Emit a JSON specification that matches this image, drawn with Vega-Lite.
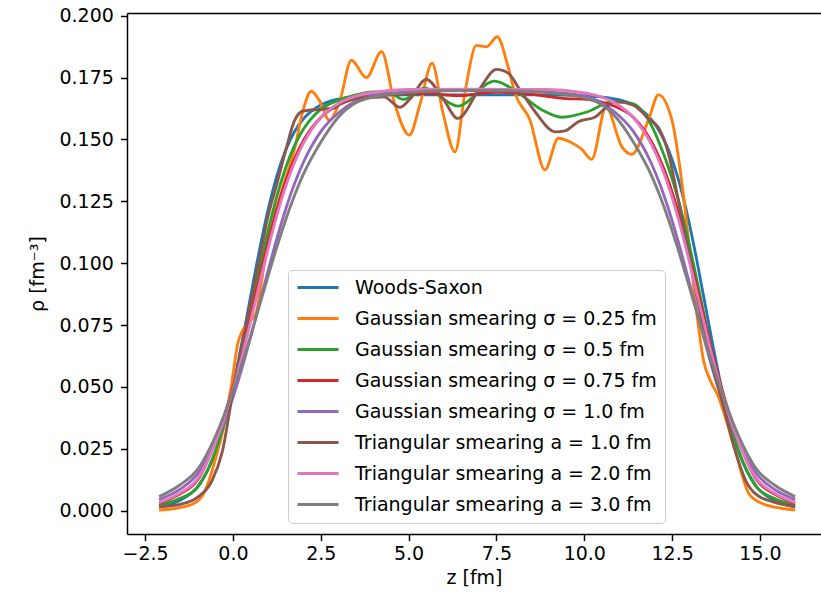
{
"$schema": "https://vega.github.io/schema/vega-lite/v6.json",
"width": 694,
"height": 521,
"autosize": {"type": "none"},
"padding": {"left": 127, "top": 13, "right": 0, "bottom": 58},
"background": "white",
"config": {
  "view": {"stroke": null},
  "axis": {"domainColor": "#000", "domainWidth": 1.5, "tickColor": "#000", "tickWidth": 1.5, "tickSize": 6.6, "labelFont": "DejaVu Sans", "labelFontSize": 19, "labelColor": "#000", "titleFont": "DejaVu Sans", "titleFontSize": 19, "titleFontWeight": "normal", "titleColor": "#000", "grid": false},
  "legend": {"orient": "none", "legendX": 161, "legendY": 257, "fillColor": "rgba(255,255,255,0.8)", "strokeColor": "#cccccc", "cornerRadius": 4, "padding": 8, "symbolType": "stroke", "symbolSize": 1681, "symbolStrokeWidth": 2.85, "clipHeight": 19, "labelFont": "DejaVu Sans", "labelFontSize": 19, "labelColor": "#000", "labelOffset": 15, "rowPadding": 11, "labelLimit": 0}
},
"data": {"values": [
{"s":"Woods-Saxon","z":-2.1,"rho":0.0016},{"s":"Woods-Saxon","z":-1.5,"rho":0.0042},{"s":"Woods-Saxon","z":-1.0,"rho":0.0098},{"s":"Woods-Saxon","z":-0.5,"rho":0.0235},{"s":"Woods-Saxon","z":0,"rho":0.0501},{"s":"Woods-Saxon","z":0.25,"rho":0.0675},{"s":"Woods-Saxon","z":0.5,"rho":0.0863},{"s":"Woods-Saxon","z":0.75,"rho":0.1049},{"s":"Woods-Saxon","z":1.0,"rho":0.1216},{"s":"Woods-Saxon","z":1.25,"rho":0.1352},{"s":"Woods-Saxon","z":1.5,"rho":0.1456},{"s":"Woods-Saxon","z":1.75,"rho":0.1531},{"s":"Woods-Saxon","z":2.0,"rho":0.1582},{"s":"Woods-Saxon","z":2.5,"rho":0.1639},{"s":"Woods-Saxon","z":3.0,"rho":0.1663},{"s":"Woods-Saxon","z":3.5,"rho":0.1673},{"s":"Woods-Saxon","z":4.0,"rho":0.1677},{"s":"Woods-Saxon","z":5.0,"rho":0.168},{"s":"Woods-Saxon","z":7.0,"rho":0.168},{"s":"Woods-Saxon","z":8.9,"rho":0.168},{"s":"Woods-Saxon","z":9.9,"rho":0.1677},{"s":"Woods-Saxon","z":10.4,"rho":0.1673},{"s":"Woods-Saxon","z":10.9,"rho":0.1663},{"s":"Woods-Saxon","z":11.4,"rho":0.1639},{"s":"Woods-Saxon","z":11.9,"rho":0.1582},{"s":"Woods-Saxon","z":12.15,"rho":0.1531},{"s":"Woods-Saxon","z":12.4,"rho":0.1456},{"s":"Woods-Saxon","z":12.65,"rho":0.1352},{"s":"Woods-Saxon","z":12.9,"rho":0.1216},{"s":"Woods-Saxon","z":13.15,"rho":0.1049},{"s":"Woods-Saxon","z":13.4,"rho":0.0863},{"s":"Woods-Saxon","z":13.65,"rho":0.0675},{"s":"Woods-Saxon","z":13.9,"rho":0.0501},{"s":"Woods-Saxon","z":14.4,"rho":0.0235},{"s":"Woods-Saxon","z":14.9,"rho":0.0098},{"s":"Woods-Saxon","z":15.4,"rho":0.0042},{"s":"Woods-Saxon","z":16.0,"rho":0.0016},

{"s":"Gaussian smearing σ = 0.25 fm","z":-2.1,"rho":0.0003},{"s":"Gaussian smearing σ = 0.25 fm","z":-1.6,"rho":0.001},{"s":"Gaussian smearing σ = 0.25 fm","z":-1.1,"rho":0.003},{"s":"Gaussian smearing σ = 0.25 fm","z":-0.85,"rho":0.0065},{"s":"Gaussian smearing σ = 0.25 fm","z":-0.7,"rho":0.0115},{"s":"Gaussian smearing σ = 0.25 fm","z":-0.48,"rho":0.0218},{"s":"Gaussian smearing σ = 0.25 fm","z":-0.24,"rho":0.0353},{"s":"Gaussian smearing σ = 0.25 fm","z":-0.05,"rho":0.05},{"s":"Gaussian smearing σ = 0.25 fm","z":0.14,"rho":0.0676},{"s":"Gaussian smearing σ = 0.25 fm","z":0.28,"rho":0.073},{"s":"Gaussian smearing σ = 0.25 fm","z":0.47,"rho":0.0764},{"s":"Gaussian smearing σ = 0.25 fm","z":0.66,"rho":0.08},{"s":"Gaussian smearing σ = 0.25 fm","z":0.81,"rho":0.092},{"s":"Gaussian smearing σ = 0.25 fm","z":0.95,"rho":0.105},{"s":"Gaussian smearing σ = 0.25 fm","z":1.14,"rho":0.117},{"s":"Gaussian smearing σ = 0.25 fm","z":1.45,"rho":0.132},{"s":"Gaussian smearing σ = 0.25 fm","z":1.75,"rho":0.146},{"s":"Gaussian smearing σ = 0.25 fm","z":2.0,"rho":0.162},{"s":"Gaussian smearing σ = 0.25 fm","z":2.23,"rho":0.1695},{"s":"Gaussian smearing σ = 0.25 fm","z":2.45,"rho":0.166},{"s":"Gaussian smearing σ = 0.25 fm","z":2.75,"rho":0.1578},{"s":"Gaussian smearing σ = 0.25 fm","z":3.05,"rho":0.166},{"s":"Gaussian smearing σ = 0.25 fm","z":3.37,"rho":0.182},{"s":"Gaussian smearing σ = 0.25 fm","z":3.8,"rho":0.175},{"s":"Gaussian smearing σ = 0.25 fm","z":4.23,"rho":0.1855},{"s":"Gaussian smearing σ = 0.25 fm","z":4.6,"rho":0.1646},{"s":"Gaussian smearing σ = 0.25 fm","z":5.02,"rho":0.1518},{"s":"Gaussian smearing σ = 0.25 fm","z":5.32,"rho":0.164},{"s":"Gaussian smearing σ = 0.25 fm","z":5.67,"rho":0.1808},{"s":"Gaussian smearing σ = 0.25 fm","z":5.98,"rho":0.1606},{"s":"Gaussian smearing σ = 0.25 fm","z":6.32,"rho":0.145},{"s":"Gaussian smearing σ = 0.25 fm","z":6.62,"rho":0.1705},{"s":"Gaussian smearing σ = 0.25 fm","z":6.93,"rho":0.188},{"s":"Gaussian smearing σ = 0.25 fm","z":7.22,"rho":0.1875},{"s":"Gaussian smearing σ = 0.25 fm","z":7.52,"rho":0.1915},{"s":"Gaussian smearing σ = 0.25 fm","z":7.82,"rho":0.18},{"s":"Gaussian smearing σ = 0.25 fm","z":8.03,"rho":0.1686},{"s":"Gaussian smearing σ = 0.25 fm","z":8.45,"rho":0.158},{"s":"Gaussian smearing σ = 0.25 fm","z":8.88,"rho":0.1377},{"s":"Gaussian smearing σ = 0.25 fm","z":9.26,"rho":0.1505},{"s":"Gaussian smearing σ = 0.25 fm","z":9.6,"rho":0.149},{"s":"Gaussian smearing σ = 0.25 fm","z":9.93,"rho":0.146},{"s":"Gaussian smearing σ = 0.25 fm","z":10.21,"rho":0.142},{"s":"Gaussian smearing σ = 0.25 fm","z":10.62,"rho":0.163},{"s":"Gaussian smearing σ = 0.25 fm","z":11.07,"rho":0.147},{"s":"Gaussian smearing σ = 0.25 fm","z":11.35,"rho":0.144},{"s":"Gaussian smearing σ = 0.25 fm","z":11.83,"rho":0.158},{"s":"Gaussian smearing σ = 0.25 fm","z":12.11,"rho":0.168},{"s":"Gaussian smearing σ = 0.25 fm","z":12.49,"rho":0.158},{"s":"Gaussian smearing σ = 0.25 fm","z":12.8,"rho":0.13},{"s":"Gaussian smearing σ = 0.25 fm","z":13.0,"rho":0.105},{"s":"Gaussian smearing σ = 0.25 fm","z":13.25,"rho":0.0743},{"s":"Gaussian smearing σ = 0.25 fm","z":13.39,"rho":0.0609},{"s":"Gaussian smearing σ = 0.25 fm","z":13.58,"rho":0.0528},{"s":"Gaussian smearing σ = 0.25 fm","z":13.82,"rho":0.046},{"s":"Gaussian smearing σ = 0.25 fm","z":14.05,"rho":0.036},{"s":"Gaussian smearing σ = 0.25 fm","z":14.29,"rho":0.0245},{"s":"Gaussian smearing σ = 0.25 fm","z":14.68,"rho":0.007},{"s":"Gaussian smearing σ = 0.25 fm","z":15.05,"rho":0.003},{"s":"Gaussian smearing σ = 0.25 fm","z":15.6,"rho":0.001},{"s":"Gaussian smearing σ = 0.25 fm","z":16.0,"rho":0.0003},

{"s":"Gaussian smearing σ = 0.5 fm","z":-2.1,"rho":0.0022},{"s":"Gaussian smearing σ = 0.5 fm","z":-1.5,"rho":0.005},{"s":"Gaussian smearing σ = 0.5 fm","z":-1.0,"rho":0.0095},{"s":"Gaussian smearing σ = 0.5 fm","z":-0.5,"rho":0.024},{"s":"Gaussian smearing σ = 0.5 fm","z":0,"rho":0.0479},{"s":"Gaussian smearing σ = 0.5 fm","z":0.25,"rho":0.063},{"s":"Gaussian smearing σ = 0.5 fm","z":0.5,"rho":0.0797},{"s":"Gaussian smearing σ = 0.5 fm","z":0.75,"rho":0.0968},{"s":"Gaussian smearing σ = 0.5 fm","z":1.0,"rho":0.1129},{"s":"Gaussian smearing σ = 0.5 fm","z":1.25,"rho":0.127},{"s":"Gaussian smearing σ = 0.5 fm","z":1.5,"rho":0.1385},{"s":"Gaussian smearing σ = 0.5 fm","z":1.75,"rho":0.1474},{"s":"Gaussian smearing σ = 0.5 fm","z":2.0,"rho":0.154},{"s":"Gaussian smearing σ = 0.5 fm","z":2.5,"rho":0.1622},{"s":"Gaussian smearing σ = 0.5 fm","z":3.0,"rho":0.1658},{"s":"Gaussian smearing σ = 0.5 fm","z":3.5,"rho":0.168},{"s":"Gaussian smearing σ = 0.5 fm","z":4.0,"rho":0.1692},{"s":"Gaussian smearing σ = 0.5 fm","z":4.4,"rho":0.1693},{"s":"Gaussian smearing σ = 0.5 fm","z":4.85,"rho":0.1662},{"s":"Gaussian smearing σ = 0.5 fm","z":5.45,"rho":0.1707},{"s":"Gaussian smearing σ = 0.5 fm","z":6.4,"rho":0.1635},{"s":"Gaussian smearing σ = 0.5 fm","z":7.45,"rho":0.1736},{"s":"Gaussian smearing σ = 0.5 fm","z":8.1,"rho":0.169},{"s":"Gaussian smearing σ = 0.5 fm","z":8.8,"rho":0.1619},{"s":"Gaussian smearing σ = 0.5 fm","z":9.35,"rho":0.159},{"s":"Gaussian smearing σ = 0.5 fm","z":10.1,"rho":0.1612},{"s":"Gaussian smearing σ = 0.5 fm","z":10.8,"rho":0.1653},{"s":"Gaussian smearing σ = 0.5 fm","z":11.35,"rho":0.1646},{"s":"Gaussian smearing σ = 0.5 fm","z":11.9,"rho":0.156},{"s":"Gaussian smearing σ = 0.5 fm","z":12.15,"rho":0.148},{"s":"Gaussian smearing σ = 0.5 fm","z":12.4,"rho":0.1385},{"s":"Gaussian smearing σ = 0.5 fm","z":12.65,"rho":0.127},{"s":"Gaussian smearing σ = 0.5 fm","z":12.9,"rho":0.1129},{"s":"Gaussian smearing σ = 0.5 fm","z":13.15,"rho":0.0968},{"s":"Gaussian smearing σ = 0.5 fm","z":13.4,"rho":0.0797},{"s":"Gaussian smearing σ = 0.5 fm","z":13.65,"rho":0.063},{"s":"Gaussian smearing σ = 0.5 fm","z":13.9,"rho":0.0479},{"s":"Gaussian smearing σ = 0.5 fm","z":14.4,"rho":0.024},{"s":"Gaussian smearing σ = 0.5 fm","z":14.9,"rho":0.0095},{"s":"Gaussian smearing σ = 0.5 fm","z":15.4,"rho":0.005},{"s":"Gaussian smearing σ = 0.5 fm","z":16.0,"rho":0.0022},

{"s":"Gaussian smearing σ = 0.75 fm","z":-2.1,"rho":0.003},{"s":"Gaussian smearing σ = 0.75 fm","z":-1.5,"rho":0.0068},{"s":"Gaussian smearing σ = 0.75 fm","z":-1.0,"rho":0.0125},{"s":"Gaussian smearing σ = 0.75 fm","z":-0.5,"rho":0.028},{"s":"Gaussian smearing σ = 0.75 fm","z":0,"rho":0.0499},{"s":"Gaussian smearing σ = 0.75 fm","z":0.25,"rho":0.0635},{"s":"Gaussian smearing σ = 0.75 fm","z":0.5,"rho":0.0784},{"s":"Gaussian smearing σ = 0.75 fm","z":0.75,"rho":0.0936},{"s":"Gaussian smearing σ = 0.75 fm","z":1.0,"rho":0.1083},{"s":"Gaussian smearing σ = 0.75 fm","z":1.25,"rho":0.1216},{"s":"Gaussian smearing σ = 0.75 fm","z":1.5,"rho":0.133},{"s":"Gaussian smearing σ = 0.75 fm","z":1.75,"rho":0.1421},{"s":"Gaussian smearing σ = 0.75 fm","z":2.0,"rho":0.1494},{"s":"Gaussian smearing σ = 0.75 fm","z":2.5,"rho":0.1589},{"s":"Gaussian smearing σ = 0.75 fm","z":3.0,"rho":0.1639},{"s":"Gaussian smearing σ = 0.75 fm","z":3.5,"rho":0.1665},{"s":"Gaussian smearing σ = 0.75 fm","z":4.0,"rho":0.1677},{"s":"Gaussian smearing σ = 0.75 fm","z":4.8,"rho":0.1684},{"s":"Gaussian smearing σ = 0.75 fm","z":5.5,"rho":0.1686},{"s":"Gaussian smearing σ = 0.75 fm","z":6.4,"rho":0.1677},{"s":"Gaussian smearing σ = 0.75 fm","z":7.5,"rho":0.1692},{"s":"Gaussian smearing σ = 0.75 fm","z":8.5,"rho":0.1682},{"s":"Gaussian smearing σ = 0.75 fm","z":9.5,"rho":0.1665},{"s":"Gaussian smearing σ = 0.75 fm","z":10.0,"rho":0.1663},{"s":"Gaussian smearing σ = 0.75 fm","z":10.4,"rho":0.1655},{"s":"Gaussian smearing σ = 0.75 fm","z":10.9,"rho":0.1632},{"s":"Gaussian smearing σ = 0.75 fm","z":11.4,"rho":0.1589},{"s":"Gaussian smearing σ = 0.75 fm","z":11.9,"rho":0.1494},{"s":"Gaussian smearing σ = 0.75 fm","z":12.15,"rho":0.1421},{"s":"Gaussian smearing σ = 0.75 fm","z":12.4,"rho":0.133},{"s":"Gaussian smearing σ = 0.75 fm","z":12.65,"rho":0.1216},{"s":"Gaussian smearing σ = 0.75 fm","z":12.9,"rho":0.1083},{"s":"Gaussian smearing σ = 0.75 fm","z":13.15,"rho":0.0936},{"s":"Gaussian smearing σ = 0.75 fm","z":13.4,"rho":0.0784},{"s":"Gaussian smearing σ = 0.75 fm","z":13.65,"rho":0.0635},{"s":"Gaussian smearing σ = 0.75 fm","z":13.9,"rho":0.0499},{"s":"Gaussian smearing σ = 0.75 fm","z":14.4,"rho":0.028},{"s":"Gaussian smearing σ = 0.75 fm","z":14.9,"rho":0.0125},{"s":"Gaussian smearing σ = 0.75 fm","z":15.4,"rho":0.0068},{"s":"Gaussian smearing σ = 0.75 fm","z":16.0,"rho":0.003},

{"s":"Gaussian smearing σ = 1.0 fm","z":-2.1,"rho":0.0045},{"s":"Gaussian smearing σ = 1.0 fm","z":-1.5,"rho":0.0087},{"s":"Gaussian smearing σ = 1.0 fm","z":-1.0,"rho":0.015},{"s":"Gaussian smearing σ = 1.0 fm","z":-0.5,"rho":0.0276},{"s":"Gaussian smearing σ = 1.0 fm","z":0,"rho":0.0457},{"s":"Gaussian smearing σ = 1.0 fm","z":0.25,"rho":0.0572},{"s":"Gaussian smearing σ = 1.0 fm","z":0.5,"rho":0.0699},{"s":"Gaussian smearing σ = 1.0 fm","z":0.75,"rho":0.0834},{"s":"Gaussian smearing σ = 1.0 fm","z":1.0,"rho":0.0969},{"s":"Gaussian smearing σ = 1.0 fm","z":1.25,"rho":0.1099},{"s":"Gaussian smearing σ = 1.0 fm","z":1.5,"rho":0.1217},{"s":"Gaussian smearing σ = 1.0 fm","z":1.75,"rho":0.132},{"s":"Gaussian smearing σ = 1.0 fm","z":2.0,"rho":0.1406},{"s":"Gaussian smearing σ = 1.0 fm","z":2.5,"rho":0.1532},{"s":"Gaussian smearing σ = 1.0 fm","z":3.0,"rho":0.1607},{"s":"Gaussian smearing σ = 1.0 fm","z":3.5,"rho":0.1655},{"s":"Gaussian smearing σ = 1.0 fm","z":4.0,"rho":0.1678},{"s":"Gaussian smearing σ = 1.0 fm","z":5.0,"rho":0.1693},{"s":"Gaussian smearing σ = 1.0 fm","z":6.0,"rho":0.1698},{"s":"Gaussian smearing σ = 1.0 fm","z":7.0,"rho":0.17},{"s":"Gaussian smearing σ = 1.0 fm","z":7.9,"rho":0.1698},{"s":"Gaussian smearing σ = 1.0 fm","z":8.9,"rho":0.1693},{"s":"Gaussian smearing σ = 1.0 fm","z":9.9,"rho":0.1678},{"s":"Gaussian smearing σ = 1.0 fm","z":10.4,"rho":0.1655},{"s":"Gaussian smearing σ = 1.0 fm","z":10.9,"rho":0.1607},{"s":"Gaussian smearing σ = 1.0 fm","z":11.4,"rho":0.1532},{"s":"Gaussian smearing σ = 1.0 fm","z":11.9,"rho":0.1406},{"s":"Gaussian smearing σ = 1.0 fm","z":12.15,"rho":0.132},{"s":"Gaussian smearing σ = 1.0 fm","z":12.4,"rho":0.1217},{"s":"Gaussian smearing σ = 1.0 fm","z":12.65,"rho":0.1099},{"s":"Gaussian smearing σ = 1.0 fm","z":12.9,"rho":0.0969},{"s":"Gaussian smearing σ = 1.0 fm","z":13.15,"rho":0.0834},{"s":"Gaussian smearing σ = 1.0 fm","z":13.4,"rho":0.0699},{"s":"Gaussian smearing σ = 1.0 fm","z":13.65,"rho":0.0572},{"s":"Gaussian smearing σ = 1.0 fm","z":13.9,"rho":0.0457},{"s":"Gaussian smearing σ = 1.0 fm","z":14.4,"rho":0.0276},{"s":"Gaussian smearing σ = 1.0 fm","z":14.9,"rho":0.015},{"s":"Gaussian smearing σ = 1.0 fm","z":15.4,"rho":0.0087},{"s":"Gaussian smearing σ = 1.0 fm","z":16.0,"rho":0.0045},

{"s":"Triangular smearing a = 1.0 fm","z":-2.1,"rho":0.0016},{"s":"Triangular smearing a = 1.0 fm","z":-1.5,"rho":0.0026},{"s":"Triangular smearing a = 1.0 fm","z":-1.0,"rho":0.0055},{"s":"Triangular smearing a = 1.0 fm","z":-0.6,"rho":0.012},{"s":"Triangular smearing a = 1.0 fm","z":-0.3,"rho":0.024},{"s":"Triangular smearing a = 1.0 fm","z":0,"rho":0.048},{"s":"Triangular smearing a = 1.0 fm","z":0.25,"rho":0.066},{"s":"Triangular smearing a = 1.0 fm","z":0.5,"rho":0.084},{"s":"Triangular smearing a = 1.0 fm","z":0.75,"rho":0.101},{"s":"Triangular smearing a = 1.0 fm","z":1.0,"rho":0.119},{"s":"Triangular smearing a = 1.0 fm","z":1.25,"rho":0.132},{"s":"Triangular smearing a = 1.0 fm","z":1.5,"rho":0.1455},{"s":"Triangular smearing a = 1.0 fm","z":1.75,"rho":0.1575},{"s":"Triangular smearing a = 1.0 fm","z":2.0,"rho":0.1615},{"s":"Triangular smearing a = 1.0 fm","z":2.5,"rho":0.1622},{"s":"Triangular smearing a = 1.0 fm","z":2.9,"rho":0.1628},{"s":"Triangular smearing a = 1.0 fm","z":3.1,"rho":0.165},{"s":"Triangular smearing a = 1.0 fm","z":3.5,"rho":0.1666},{"s":"Triangular smearing a = 1.0 fm","z":4.0,"rho":0.167},{"s":"Triangular smearing a = 1.0 fm","z":4.3,"rho":0.1672},{"s":"Triangular smearing a = 1.0 fm","z":4.75,"rho":0.163},{"s":"Triangular smearing a = 1.0 fm","z":5.05,"rho":0.1665},{"s":"Triangular smearing a = 1.0 fm","z":5.5,"rho":0.1743},{"s":"Triangular smearing a = 1.0 fm","z":6.0,"rho":0.166},{"s":"Triangular smearing a = 1.0 fm","z":6.4,"rho":0.1585},{"s":"Triangular smearing a = 1.0 fm","z":7.0,"rho":0.17},{"s":"Triangular smearing a = 1.0 fm","z":7.5,"rho":0.1783},{"s":"Triangular smearing a = 1.0 fm","z":7.84,"rho":0.1767},{"s":"Triangular smearing a = 1.0 fm","z":8.15,"rho":0.1705},{"s":"Triangular smearing a = 1.0 fm","z":8.6,"rho":0.1612},{"s":"Triangular smearing a = 1.0 fm","z":9.17,"rho":0.1531},{"s":"Triangular smearing a = 1.0 fm","z":9.45,"rho":0.1535},{"s":"Triangular smearing a = 1.0 fm","z":9.83,"rho":0.1572},{"s":"Triangular smearing a = 1.0 fm","z":10.3,"rho":0.159},{"s":"Triangular smearing a = 1.0 fm","z":10.87,"rho":0.1653},{"s":"Triangular smearing a = 1.0 fm","z":11.4,"rho":0.1639},{"s":"Triangular smearing a = 1.0 fm","z":11.85,"rho":0.158},{"s":"Triangular smearing a = 1.0 fm","z":12.11,"rho":0.1548},{"s":"Triangular smearing a = 1.0 fm","z":12.4,"rho":0.144},{"s":"Triangular smearing a = 1.0 fm","z":12.68,"rho":0.125},{"s":"Triangular smearing a = 1.0 fm","z":12.9,"rho":0.109},{"s":"Triangular smearing a = 1.0 fm","z":13.15,"rho":0.091},{"s":"Triangular smearing a = 1.0 fm","z":13.4,"rho":0.073},{"s":"Triangular smearing a = 1.0 fm","z":13.65,"rho":0.058},{"s":"Triangular smearing a = 1.0 fm","z":13.9,"rho":0.0455},{"s":"Triangular smearing a = 1.0 fm","z":14.3,"rho":0.024},{"s":"Triangular smearing a = 1.0 fm","z":14.6,"rho":0.012},{"s":"Triangular smearing a = 1.0 fm","z":14.9,"rho":0.0065},{"s":"Triangular smearing a = 1.0 fm","z":15.4,"rho":0.0035},{"s":"Triangular smearing a = 1.0 fm","z":16.0,"rho":0.0017},

{"s":"Triangular smearing a = 2.0 fm","z":-2.1,"rho":0.0033},{"s":"Triangular smearing a = 2.0 fm","z":-1.5,"rho":0.0072},{"s":"Triangular smearing a = 2.0 fm","z":-1.0,"rho":0.013},{"s":"Triangular smearing a = 2.0 fm","z":-0.5,"rho":0.0275},{"s":"Triangular smearing a = 2.0 fm","z":0,"rho":0.0488},{"s":"Triangular smearing a = 2.0 fm","z":0.25,"rho":0.0618},{"s":"Triangular smearing a = 2.0 fm","z":0.5,"rho":0.0763},{"s":"Triangular smearing a = 2.0 fm","z":0.75,"rho":0.0912},{"s":"Triangular smearing a = 2.0 fm","z":1.0,"rho":0.1058},{"s":"Triangular smearing a = 2.0 fm","z":1.25,"rho":0.1193},{"s":"Triangular smearing a = 2.0 fm","z":1.5,"rho":0.131},{"s":"Triangular smearing a = 2.0 fm","z":1.75,"rho":0.1406},{"s":"Triangular smearing a = 2.0 fm","z":2.0,"rho":0.1483},{"s":"Triangular smearing a = 2.0 fm","z":2.5,"rho":0.1588},{"s":"Triangular smearing a = 2.0 fm","z":3.0,"rho":0.1645},{"s":"Triangular smearing a = 2.0 fm","z":3.5,"rho":0.1675},{"s":"Triangular smearing a = 2.0 fm","z":4.0,"rho":0.169},{"s":"Triangular smearing a = 2.0 fm","z":5.0,"rho":0.1702},{"s":"Triangular smearing a = 2.0 fm","z":7.0,"rho":0.1703},{"s":"Triangular smearing a = 2.0 fm","z":8.9,"rho":0.1702},{"s":"Triangular smearing a = 2.0 fm","z":9.9,"rho":0.169},{"s":"Triangular smearing a = 2.0 fm","z":10.4,"rho":0.1675},{"s":"Triangular smearing a = 2.0 fm","z":10.9,"rho":0.1645},{"s":"Triangular smearing a = 2.0 fm","z":11.4,"rho":0.1588},{"s":"Triangular smearing a = 2.0 fm","z":11.9,"rho":0.1483},{"s":"Triangular smearing a = 2.0 fm","z":12.15,"rho":0.1406},{"s":"Triangular smearing a = 2.0 fm","z":12.4,"rho":0.131},{"s":"Triangular smearing a = 2.0 fm","z":12.65,"rho":0.1193},{"s":"Triangular smearing a = 2.0 fm","z":12.9,"rho":0.1058},{"s":"Triangular smearing a = 2.0 fm","z":13.15,"rho":0.0912},{"s":"Triangular smearing a = 2.0 fm","z":13.4,"rho":0.0763},{"s":"Triangular smearing a = 2.0 fm","z":13.65,"rho":0.0618},{"s":"Triangular smearing a = 2.0 fm","z":13.9,"rho":0.0488},{"s":"Triangular smearing a = 2.0 fm","z":14.4,"rho":0.0275},{"s":"Triangular smearing a = 2.0 fm","z":14.9,"rho":0.013},{"s":"Triangular smearing a = 2.0 fm","z":15.4,"rho":0.0072},{"s":"Triangular smearing a = 2.0 fm","z":16.0,"rho":0.0033},

{"s":"Triangular smearing a = 3.0 fm","z":-2.1,"rho":0.0057},{"s":"Triangular smearing a = 3.0 fm","z":-1.5,"rho":0.0105},{"s":"Triangular smearing a = 3.0 fm","z":-1.0,"rho":0.0168},{"s":"Triangular smearing a = 3.0 fm","z":-0.5,"rho":0.03},{"s":"Triangular smearing a = 3.0 fm","z":0,"rho":0.0484},{"s":"Triangular smearing a = 3.0 fm","z":0.25,"rho":0.059},{"s":"Triangular smearing a = 3.0 fm","z":0.5,"rho":0.0705},{"s":"Triangular smearing a = 3.0 fm","z":0.75,"rho":0.0826},{"s":"Triangular smearing a = 3.0 fm","z":1.0,"rho":0.0947},{"s":"Triangular smearing a = 3.0 fm","z":1.25,"rho":0.1065},{"s":"Triangular smearing a = 3.0 fm","z":1.5,"rho":0.1175},{"s":"Triangular smearing a = 3.0 fm","z":1.75,"rho":0.1273},{"s":"Triangular smearing a = 3.0 fm","z":2.0,"rho":0.1358},{"s":"Triangular smearing a = 3.0 fm","z":2.5,"rho":0.1489},{"s":"Triangular smearing a = 3.0 fm","z":3.0,"rho":0.159},{"s":"Triangular smearing a = 3.0 fm","z":3.5,"rho":0.1648},{"s":"Triangular smearing a = 3.0 fm","z":4.0,"rho":0.1672},{"s":"Triangular smearing a = 3.0 fm","z":5.0,"rho":0.169},{"s":"Triangular smearing a = 3.0 fm","z":6.0,"rho":0.1697},{"s":"Triangular smearing a = 3.0 fm","z":7.0,"rho":0.1698},{"s":"Triangular smearing a = 3.0 fm","z":7.9,"rho":0.1697},{"s":"Triangular smearing a = 3.0 fm","z":8.9,"rho":0.169},{"s":"Triangular smearing a = 3.0 fm","z":9.9,"rho":0.1672},{"s":"Triangular smearing a = 3.0 fm","z":10.4,"rho":0.1648},{"s":"Triangular smearing a = 3.0 fm","z":10.9,"rho":0.159},{"s":"Triangular smearing a = 3.0 fm","z":11.4,"rho":0.1489},{"s":"Triangular smearing a = 3.0 fm","z":11.9,"rho":0.1358},{"s":"Triangular smearing a = 3.0 fm","z":12.15,"rho":0.1273},{"s":"Triangular smearing a = 3.0 fm","z":12.4,"rho":0.1175},{"s":"Triangular smearing a = 3.0 fm","z":12.65,"rho":0.1065},{"s":"Triangular smearing a = 3.0 fm","z":12.9,"rho":0.0947},{"s":"Triangular smearing a = 3.0 fm","z":13.15,"rho":0.0826},{"s":"Triangular smearing a = 3.0 fm","z":13.4,"rho":0.0705},{"s":"Triangular smearing a = 3.0 fm","z":13.65,"rho":0.059},{"s":"Triangular smearing a = 3.0 fm","z":13.9,"rho":0.0484},{"s":"Triangular smearing a = 3.0 fm","z":14.4,"rho":0.03},{"s":"Triangular smearing a = 3.0 fm","z":14.9,"rho":0.0168},{"s":"Triangular smearing a = 3.0 fm","z":15.4,"rho":0.0105},{"s":"Triangular smearing a = 3.0 fm","z":16.0,"rho":0.0057}
]},
"resolve": {"axis": {"x": "independent"}},
"layer": [
  {
    "mark": {"type": "line", "strokeWidth": 2.85, "interpolate": "monotone", "clip": true},
    "encoding": {
      "x": {"field": "z", "type": "quantitative", "scale": {"domain": [-3.014, 16.736], "nice": false, "zero": false},
            "axis": {"orient": "bottom", "values": [-2.5, 0, 2.5, 5, 7.5, 10, 12.5, 15], "format": ".1f", "labelPadding": 4, "title": "z [fm]", "titlePadding": 5}},
      "y": {"field": "rho", "type": "quantitative", "scale": {"domain": [-0.0094, 0.2011], "nice": false, "zero": false},
            "axis": {"values": [0, 0.025, 0.05, 0.075, 0.1, 0.125, 0.15, 0.175, 0.2], "format": ".3f", "labelPadding": 7, "title": "ρ [fm⁻³]", "titlePadding": 12}},
      "color": {"field": "s", "type": "nominal",
        "scale": {"domain": ["Woods-Saxon", "Gaussian smearing σ = 0.25 fm", "Gaussian smearing σ = 0.5 fm", "Gaussian smearing σ = 0.75 fm", "Gaussian smearing σ = 1.0 fm", "Triangular smearing a = 1.0 fm", "Triangular smearing a = 2.0 fm", "Triangular smearing a = 3.0 fm"],
                  "range": ["#1f77b4", "#ff7f0e", "#2ca02c", "#d62728", "#9467bd", "#8c564b", "#e377c2", "#7f7f7f"]},
        "legend": {"title": null}}
    }
  },
  {
    "mark": {"type": "point", "opacity": 0},
    "encoding": {
      "x": {"field": "z", "type": "quantitative", "axis": {"orient": "top", "labels": false, "ticks": false, "title": null, "domain": true}}
    }
  }
]
}
